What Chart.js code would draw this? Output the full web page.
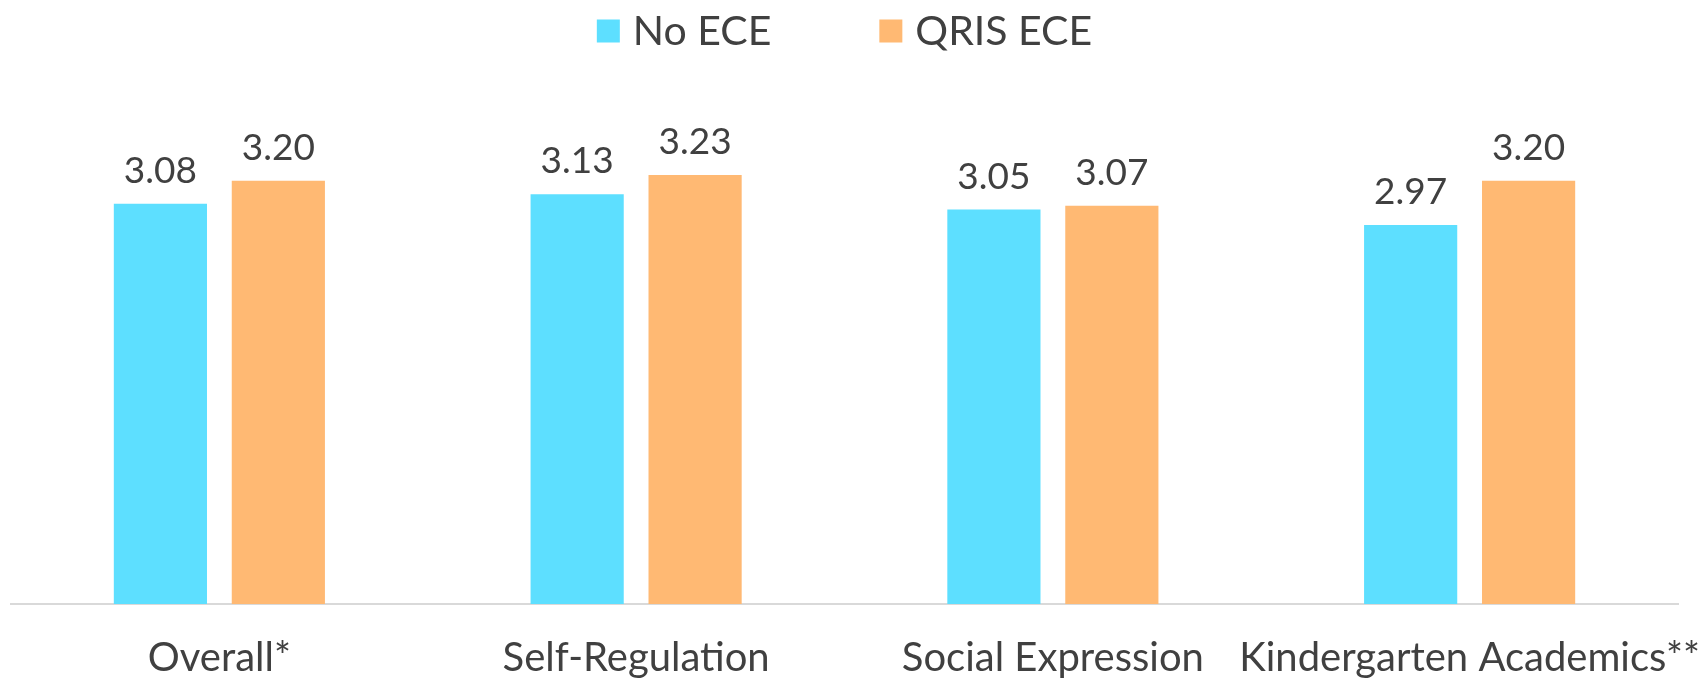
<!DOCTYPE html>
<html>
<head>
<meta charset="utf-8">
<script src="https://cdn.jsdelivr.net/npm/chart.js@4.4.1/dist/chart.umd.min.js"></script>
<style>
  html, body { margin: 0; padding: 0; background: #fff; }
  #wrap { width: 1706px; height: 679px; }
</style>
</head>
<body>
<div id="wrap"><canvas id="chart" width="1706" height="679"></canvas></div>
<script>
// ECE outcome scores by domain

const categories = ['Overall*', 'Self-Regulation', 'Social Expression', 'Kindergarten Academics**'];
const seriesNames = ['No ECE', 'QRIS ECE'];
const noEce = [3.08, 3.13, 3.05, 2.97];
const qrisEce = [3.20, 3.23, 3.07, 3.20];

const COLORS = ['#5DDFFF', '#FFB973'];
const TEXT = '#404040';
const FONT = "Lato, 'Open Sans', sans-serif";

// value labels above each bar
const barLabels = {
  id: 'barLabels',
  afterDatasetsDraw(chart) {
    const ctx = chart.ctx;
    ctx.save();
    ctx.font = `37px ${FONT}`;
    ctx.fillStyle = TEXT;
    ctx.textAlign = 'center';
    ctx.textBaseline = 'alphabetic';
    chart.data.datasets.forEach((ds, i) => {
      chart.getDatasetMeta(i).data.forEach((bar, j) => {
        ctx.fillText(ds.data[j].toFixed(2), bar.x, bar.y - 21);
      });
    });
    ctx.restore();
  }
};

// legend at the top (wide spacing between items)
const topLegend = {
  id: 'topLegend',
  afterDraw(chart) {
    const ctx = chart.ctx;
    const box = 23, gap = 13, spacing = 108, midY = 31;
    ctx.save();
    ctx.font = `41px ${FONT}`;
    ctx.textBaseline = 'middle';
    ctx.textAlign = 'left';
    const items = chart.data.datasets.map(ds => ({
      text: ds.label, color: ds.backgroundColor, w: box + gap + ctx.measureText(ds.label).width
    }));
    const total = items.reduce((s, it) => s + it.w, 0) + spacing * (items.length - 1);
    const ca = chart.chartArea;
    let x = (ca.left + ca.right) / 2 - total / 2;
    items.forEach(it => {
      ctx.fillStyle = it.color;
      ctx.fillRect(x, midY - box / 2, box, box);
      ctx.fillStyle = TEXT;
      ctx.fillText(it.text, x + box + gap, midY + 1);
      x += it.w + spacing;
    });
    ctx.restore();
  }
};

new Chart(document.getElementById('chart').getContext('2d'), {
  type: 'bar',
  data: {
    labels: categories,
    datasets: [
      { label: seriesNames[0], data: noEce, backgroundColor: COLORS[0] },
      { label: seriesNames[1], data: qrisEce, backgroundColor: COLORS[1] }
    ].map(d => ({ ...d, categoryPercentage: 0.566, barPercentage: 0.79, borderWidth: 0 }))
  },
  options: {
    responsive: false,
    animation: false,
    layout: { padding: { left: 11, right: 28, top: 123, bottom: 0 } },
    plugins: {
      legend: { display: false },
      tooltip: { enabled: false }
    },
    scales: {
      x: {
        grid: { display: false, drawTicks: false },
        border: { display: true, color: '#d9d9d9', width: 2 },
        ticks: {
          color: TEXT,
          font: { family: FONT, size: 40, lineHeight: 1.0 },
          padding: 34,
          maxRotation: 0,
          minRotation: 0,
          autoSkip: false
        },
        // keep the plot box fixed: long last label must not shrink it
        afterFit(scale) {
          scale.height = 75;
          scale.paddingLeft = 0;
          scale.paddingRight = 0;
        }
      },
      y: {
        display: false,
        min: 1,
        max: 3.5
      }
    }
  },
  plugins: [barLabels, topLegend]
});
</script>
</body>
</html>
